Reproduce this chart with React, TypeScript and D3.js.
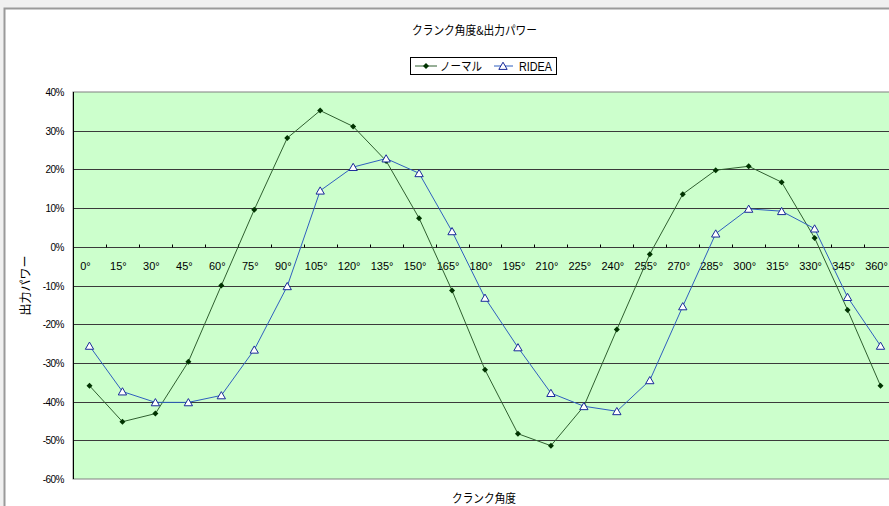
import React, { useEffect, useRef } from "react";
import * as d3 from "d3";

const categories = ["0°","15°","30°","45°","60°","75°","90°","105°","120°","135°","150°","165°","180°","195°","210°","225°","240°","255°","270°","285°","300°","315°","330°","345°","360°"];
const normal = [-35.9,-45.2,-43.1,-29.7,-10.0,9.6,28.1,35.2,31.1,22.2,7.4,-11.3,-31.8,-48.3,-51.4,-41.2,-21.4,-1.9,13.6,19.8,20.8,16.7,2.3,-16.3,-35.9];
const ridea = [-25.6,-37.4,-40.2,-40.2,-38.4,-26.6,-10.2,14.5,20.6,22.8,19.0,4.0,-13.2,-26.0,-37.8,-41.2,-42.5,-34.5,-15.4,3.4,9.8,9.2,4.7,-13.0,-25.6];
const yTicks = [40,30,20,10,0,-10,-20,-30,-40,-50,-60];
const title = "クランク角度&出力パワー";
const xTitle = "クランク角度";
const yTitle = "出力パワー";
const seriesNames = ["ノーマル", "RIDEA"];

const W = 889, H = 506;
const FONT = "'Liberation Sans', Arial, 'Noto Sans CJK JP', sans-serif";
const JFONT = "'Noto Sans CJK JP', 'Liberation Sans', sans-serif";

export default function App() {
  const ref = useRef<SVGSVGElement>(null);
  useEffect(() => {
    const svg = d3.select(ref.current);
    svg.selectAll("*").remove();
    svg.append("rect").attr("x", 0).attr("y", 0).attr("width", W).attr("height", H).attr("fill", "#f0f0f0");
    svg.append("rect").attr("x", 4.5).attr("y", 8.5).attr("width", W + 10).attr("height", H + 10)
      .attr("fill", "#fff").attr("stroke", "#9a9a9a").attr("stroke-width", 2);

    const left = 73, right = 897, top = 92, bottom = 479;
    const x = d3.scaleBand<string>().domain(categories).range([left, right]).padding(0);
    const y = d3.scaleLinear().domain([-60, 40]).range([bottom, top]);
    const cx = (c: string) => (x(c) as number) + x.bandwidth() / 2;

    svg.append("rect").attr("x", left).attr("y", top).attr("width", right - left).attr("height", bottom - top)
      .attr("fill", "#ccffcc").attr("stroke", "#808080").attr("stroke-width", 1);

    svg.append("g").selectAll("line").data(yTicks.filter(t => t !== 40 && t !== -60)).join("line")
      .attr("x1", left).attr("x2", right)
      .attr("y1", d => Math.round(y(d)) + 0.5).attr("y2", d => Math.round(y(d)) + 0.5)
      .attr("stroke", "#3a3a3a").attr("stroke-width", 1);

    svg.append("line").attr("x1", left + 0.5).attr("x2", left + 0.5).attr("y1", top).attr("y2", bottom)
      .attr("stroke", "#000").attr("stroke-width", 1);

    svg.append("g").selectAll("text").data(yTicks).join("text")
      .attr("x", 64).attr("y", d => y(d) + 4)
      .attr("text-anchor", "end").attr("font-size", 10).attr("font-family", FONT).attr("fill", "#000")
      .attr("letter-spacing", -0.5)
      .text(d => `${d}%`);

    const y0 = Math.round(y(0)) + 0.5;
    svg.append("g").selectAll("line").data(categories.slice(1)).join("line")
      .attr("x1", d => Math.round(x(d) as number) + 0.5).attr("x2", d => Math.round(x(d) as number) + 0.5)
      .attr("y1", y0 - 3).attr("y2", y0)
      .attr("stroke", "#000").attr("stroke-width", 1);

    svg.append("g").selectAll("text").data(categories).join("text")
      .attr("x", d => cx(d) - 4).attr("y", y0 + 22)
      .attr("text-anchor", "middle").attr("font-size", 11).attr("font-family", FONT).attr("fill", "#000")
      .text(d => d);

    const line = d3.line<number>().x((_, i) => cx(categories[i])).y(d => y(d));

    svg.append("path").datum(normal).attr("d", line).attr("fill", "none")
      .attr("stroke", "#2f5f2f").attr("stroke-width", 1);
    const diamond = d3.symbol().type(d3.symbolSquare).size(18);
    svg.append("g").selectAll("path").data(normal).join("path")
      .attr("transform", (d, i) => `translate(${cx(categories[i])},${y(d)}) rotate(45)`)
      .attr("d", diamond()).attr("fill", "#003300");

    svg.append("path").datum(ridea).attr("d", line).attr("fill", "none")
      .attr("stroke", "#2f5fbf").attr("stroke-width", 1);
    const tri = d3.symbol().type(d3.symbolTriangle).size(30);
    svg.append("g").selectAll("path").data(ridea).join("path")
      .attr("transform", (d, i) => `translate(${cx(categories[i])},${y(d) + 1})`)
      .attr("d", tri()).attr("fill", "#ffffff").attr("stroke", "#1a2a99").attr("stroke-width", 1);

    svg.append("text").attr("x", 412).attr("y", 35)
      .attr("font-size", 12).attr("font-family", JFONT).attr("fill", "#000")
      .attr("textLength", 125).attr("lengthAdjust", "spacingAndGlyphs").text(title);

    const ly = 66;
    const lg = svg.append("g");
    lg.append("rect").attr("x", 410.5).attr("y", 57.5).attr("width", 146).attr("height", 17)
      .attr("fill", "#fff").attr("stroke", "#000").attr("stroke-width", 1);
    lg.append("line").attr("x1", 415).attr("x2", 437).attr("y1", ly).attr("y2", ly).attr("stroke", "#2f5f2f");
    lg.append("path").attr("transform", `translate(426,${ly}) rotate(45)`).attr("d", diamond()).attr("fill", "#003300");
    lg.append("text").attr("x", 440).attr("y", ly + 4.5).attr("font-size", 12).attr("font-family", JFONT)
      .attr("textLength", 42).attr("lengthAdjust", "spacingAndGlyphs").text(seriesNames[0]);
    lg.append("line").attr("x1", 494).attr("x2", 513).attr("y1", ly).attr("y2", ly).attr("stroke", "#2f5fbf");
    lg.append("path").attr("transform", `translate(503,${ly + 1})`).attr("d", tri()).attr("fill", "#fff").attr("stroke", "#1a2a99");
    lg.append("text").attr("x", 519).attr("y", ly + 4.5).attr("font-size", 12).attr("font-family", FONT)
      .attr("textLength", 33).attr("lengthAdjust", "spacingAndGlyphs").text(seriesNames[1]);

    svg.append("text").attr("x", 452).attr("y", 503)
      .attr("font-size", 12).attr("font-family", JFONT).attr("fill", "#000")
      .attr("textLength", 64).attr("lengthAdjust", "spacingAndGlyphs").text(xTitle);
    svg.append("text").attr("transform", `translate(30,${(top + bottom) / 2}) rotate(-90)`)
      .attr("text-anchor", "middle").attr("font-size", 12).attr("font-family", JFONT).attr("fill", "#000").text(yTitle);
  }, []);
  return (
    <div style={{ position: "fixed", left: 0, top: 0, width: W, height: H, overflow: "hidden" }}>
      <svg ref={ref} width={W} height={H} style={{ display: "block" }} />
    </div>
  );
}
